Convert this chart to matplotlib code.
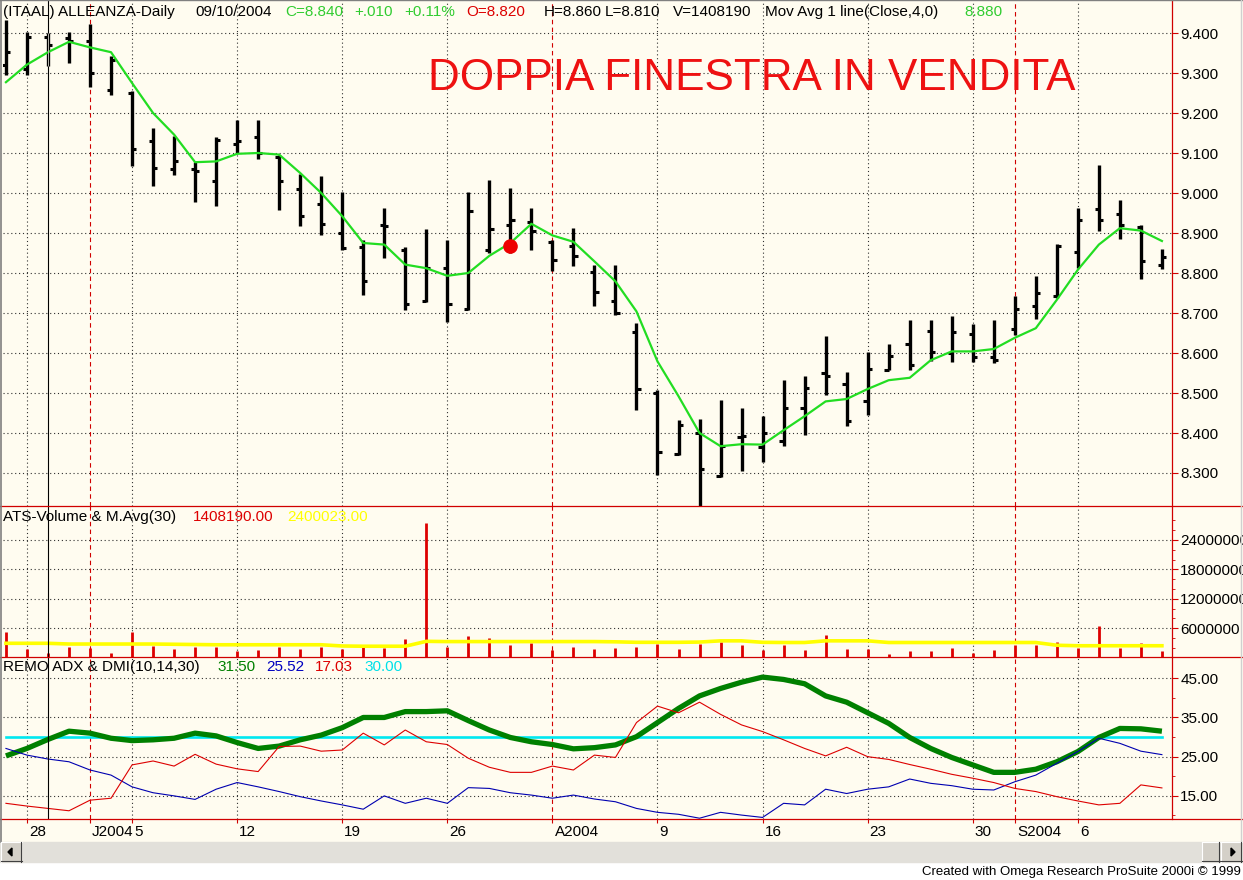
import matplotlib
matplotlib.use('Agg')
import numpy as np
import matplotlib.pyplot as plt
from matplotlib.patches import Rectangle, Polygon
from matplotlib.ticker import FormatStrFormatter

W, H = 1243, 880
CREAM = '#FFFCF0'
RED = '#D00000'
DOTS = (0, (1, 2.5))

# ---- daily bars, 25 Jun 2004 .. 10 Sep 2004 ----
opens = [9.32, 9.31, 9.39, 9.388, 9.38, 9.258, 9.25, 9.13, 9.06, 9.06,
         9.03, 9.123, 9.14, 9.09, 9.01, 8.972, 8.90, 8.865, 8.92, 8.858,
         8.731, 8.813, 8.71, 8.858, 8.92, 8.927, 8.877, 8.867, 8.803, 8.731,
         8.652, 8.50, 8.348, 8.40, 8.293, 8.39, 8.364, 8.38, 8.463, 8.55,
         8.522, 8.479, 8.558, 8.623, 8.654, 8.60, 8.648, 8.59, 8.661, 8.717,
         8.742, 8.852, 8.96, 8.948, 8.915, 8.82]
highs = [9.432, 9.402, 9.40, 9.402, 9.423, 9.342, 9.254, 9.162, 9.142, 9.077,
         9.14, 9.182, 9.182, 9.096, 9.048, 9.042, 9.002, 8.883, 8.962, 8.865,
         8.911, 8.883, 9.002, 9.032, 9.012, 8.962, 8.883, 8.912, 8.821, 8.821,
         8.675, 8.507, 8.432, 8.435, 8.482, 8.463, 8.442, 8.533, 8.542, 8.642,
         8.552, 8.603, 8.623, 8.682, 8.682, 8.692, 8.673, 8.682, 8.742, 8.792,
         8.873, 8.963, 9.071, 8.982, 8.92, 8.86]
lows = [9.296, 9.296, 9.317, 9.325, 9.265, 9.246, 9.067, 9.017, 9.046, 8.977,
        8.967, 9.10, 9.085, 8.957, 8.917, 8.896, 8.858, 8.746, 8.837, 8.708,
        8.727, 8.677, 8.708, 8.85, 8.85, 8.857, 8.804, 8.817, 8.717, 8.696,
        8.457, 8.296, 8.346, 8.21, 8.29, 8.304, 8.327, 8.367, 8.396, 8.496,
        8.417, 8.446, 8.557, 8.557, 8.579, 8.577, 8.577, 8.575, 8.646, 8.685,
        8.738, 8.813, 8.904, 8.885, 8.786, 8.81]
closes = [9.352, 9.39, 9.37, 9.38, 9.30, 9.332, 9.11, 9.063, 9.08, 9.055,
          9.132, 9.13, 9.10, 9.03, 8.942, 8.923, 8.862, 8.78, 8.918, 8.723,
          8.813, 8.723, 8.954, 8.911, 8.932, 8.905, 8.833, 8.842, 8.753, 8.70,
          8.511, 8.352, 8.421, 8.31, 8.368, 8.392, 8.40, 8.463, 8.512, 8.542,
          8.429, 8.561, 8.592, 8.571, 8.602, 8.652, 8.59, 8.582, 8.71, 8.75,
          8.867, 8.932, 8.932, 8.92, 8.829, 8.84]
mov_avg = [9.277, 9.321, 9.352, 9.378, 9.364, 9.352, 9.275, 9.20, 9.146, 9.077,
           9.079, 9.098, 9.10, 9.096, 9.05, 9.0, 8.942, 8.875, 8.871, 8.821,
           8.812, 8.793, 8.80, 8.843, 8.875, 8.923, 8.894, 8.878, 8.829, 8.779,
           8.704, 8.579, 8.492, 8.40, 8.367, 8.372, 8.371, 8.407, 8.442, 8.479,
           8.485, 8.51, 8.532, 8.538, 8.582, 8.604, 8.604, 8.61, 8.638, 8.662,
           8.733, 8.808, 8.871, 8.912, 8.906, 8.88]
signal_bar, signal_price = 24, 8.867

# volume, millions
volume = [5.3, 1.77, 0.88, 2.1, 1.9, 1.0, 5.2, 2.3, 1.77, 2.1,
          2.1, 1.36, 1.43, 2.1, 1.77, 2.1, 1.77, 2.1, 1.9, 3.8,
          27.4, 2.1, 4.4, 3.95, 2.6, 2.9, 1.56, 2.1, 1.77, 1.9,
          2.1, 2.8, 1.77, 2.8, 3.1, 2.6, 1.56, 2.6, 1.56, 4.5,
          1.77, 1.7, 0.8, 1.36, 1.36, 1.9, 1.0, 1.43, 2.6, 2.6,
          3.1, 1.9, 6.5, 1.9, 2.9, 1.408]
volume_ma = [2.9, 2.9, 2.9, 2.75, 2.75, 2.75, 2.75, 2.75, 2.7, 2.65,
             2.6, 2.6, 2.6, 2.6, 2.6, 2.6, 2.35, 2.3, 2.3, 2.3,
             3.3, 3.25, 3.25, 3.25, 3.25, 3.25, 3.25, 3.25, 3.25, 3.2,
             3.1, 3.1, 3.1, 3.15, 3.4, 3.4, 3.1, 3.06, 3.06, 3.4,
             3.4, 3.4, 3.06, 3.06, 3.06, 3.06, 3.06, 3.06, 3.06, 3.06,
             2.5, 2.4, 2.4, 2.4, 2.4, 2.4]

# ADX & DMI
adx = [25.2, 27.1, 29.4, 31.5, 31.0, 29.7, 29.1, 29.3, 29.7, 31.0,
       30.3, 28.6, 27.1, 27.7, 29.3, 30.5, 32.4, 35.0, 35.0, 36.5,
       36.5, 36.7, 34.2, 31.8, 29.9, 28.8, 28.1, 27.0, 27.3, 28.0,
       30.1, 33.7, 37.3, 40.5, 42.4, 44.0, 45.3, 44.7, 43.6, 40.5,
       38.9, 36.2, 33.5, 29.9, 27.1, 24.8, 22.9, 21.0, 21.0, 21.8,
       23.7, 26.3, 29.9, 32.2, 32.1, 31.5]
di_red = [13.1, 12.4, 11.8, 11.2, 13.9, 14.4, 22.9, 23.9, 22.6, 25.6,
          23.1, 21.9, 21.2, 27.6, 27.7, 26.4, 26.7, 31.0, 28.0, 31.8,
          28.8, 28.1, 24.6, 22.3, 21.0, 21.0, 22.6, 21.6, 25.4, 24.8,
          33.7, 37.9, 36.2, 38.9, 35.8, 33.1, 31.4, 29.3, 27.1, 25.2,
          27.4, 25.0, 24.3, 23.0, 21.8, 20.5, 19.5, 18.4, 16.9, 16.1,
          14.8, 13.7, 12.7, 13.1, 17.8, 17.03]
di_blue = [27.1, 25.4, 24.4, 23.7, 21.6, 20.3, 17.3, 15.8, 15.0, 14.1,
           16.7, 18.4, 17.3, 16.1, 14.8, 13.7, 12.7, 11.6, 15.0, 13.1,
           14.4, 13.1, 17.1, 16.9, 15.8, 15.2, 14.4, 15.2, 14.2, 13.5,
           11.8, 10.8, 10.3, 9.3, 10.8, 10.1, 9.5, 13.1, 12.7, 16.7,
           15.6, 16.7, 17.3, 19.3, 18.2, 17.6, 16.7, 16.5, 18.6, 20.3,
           23.3, 26.3, 29.7, 28.4, 26.4, 25.52]
adx_level = 30.0

week_bars = [1, 6, 11, 16, 21, 31, 36, 41, 46, 51]
month_bars = [4, 26, 48]
date_ticks = [1, 4, 6, 11, 16, 21, 26, 31, 36, 41, 46, 48, 51]
date_labels = ['28', 'J2004', '5', '12', '19', '26', 'A2004', '9', '16', '23', '30', 'S2004', '6']
cursor_bar = 2

price_ticks = [8.3, 8.4, 8.5, 8.6, 8.7, 8.8, 8.9, 9.0, 9.1, 9.2, 9.3, 9.4]
vol_ticks = [6e6, 12e6, 18e6, 24e6]
adx_ticks = [15, 25, 35, 45]

plt.rcParams['font.family'] = ['Liberation Sans', 'DejaVu Sans']

fig = plt.figure(figsize=(W / 100, H / 100), dpi=100)
fig.patch.set_facecolor('white')

back = fig.add_axes([0, 0, 1, 1], zorder=0)
back.set_xlim(0, W)
back.set_ylim(H, 0)
back.axis('off')
back.add_patch(Rectangle((0, 0), W, 842, color=CREAM))

x = np.arange(len(closes))
XL = (-0.14, 55.48)


def panel(top, bottom, ylim):
    ax = fig.add_axes([3 / W, 1 - bottom / H, (1172 - 3) / W, (bottom - top) / H], zorder=1)
    ax.patch.set_visible(False)
    for s in ax.spines.values():
        s.set_visible(False)
    ax.set_xlim(*XL)
    ax.set_ylim(*ylim)
    ax.yaxis.tick_right()
    ax.tick_params(axis='y', which='both', direction='out', color=RED, labelcolor='black',
                   labelsize=11, pad=2)
    ax.tick_params(axis='y', which='major', length=4)
    ax.tick_params(axis='y', which='minor', length=2.5)
    ax.tick_params(axis='x', bottom=False, labelbottom=False)
    for w in week_bars:
        ax.axvline(w, color='#303030', lw=0.8, ls=DOTS, zorder=0.5)
    for m in month_bars:
        ax.axvline(m, color=RED, lw=0.8, ls=(0, (4, 3)), zorder=0.6)
    return ax


# ---- price ----
ax_p = panel(0, 506, (8.2175, 9.4825))
ax_p.set_yticks(price_ticks)
ax_p.yaxis.set_major_formatter(FormatStrFormatter('%.3f'))
for t in price_ticks:
    ax_p.axhline(t, color='#303030', lw=0.8, ls=DOTS, zorder=0.5)
ax_p.vlines(x, lows, highs, color='black', lw=2.4, zorder=3)
ax_p.hlines(opens, x - 0.2, x, color='black', lw=2.2, zorder=3)
ax_p.hlines(closes, x, x + 0.2, color='black', lw=2.2, zorder=3)
ax_p.plot(x, mov_avg, color='#22DD22', lw=1.6, zorder=4)
ax_p.plot(signal_bar, signal_price, 'o', color='#EE0000', ms=9.5, zorder=6)

# ---- volume ----
ax_v = panel(506, 657.5, (0, 30.92e6))
ax_v.set_yticks(vol_ticks)
ax_v.set_yticks(np.arange(2e6, 30e6, 2e6), minor=True)
ax_v.yaxis.set_major_formatter(FormatStrFormatter('%d'))
for t in vol_ticks:
    ax_v.axhline(t, color='#303030', lw=0.8, ls=DOTS, zorder=0.5)
ax_v.vlines(x, 0, np.array(volume) * 1e6, color='#DD0000', lw=2.0, zorder=3)
ax_v.plot(x, np.array(volume_ma) * 1e6, color='#FFFF00', lw=2.6, zorder=4)

# ---- ADX ----
ax_a = panel(657.5, 819, (9.1, 50.3))
ax_a.set_yticks(adx_ticks)
ax_a.set_yticks([10, 20, 30, 40], minor=True)
ax_a.yaxis.set_major_formatter(FormatStrFormatter('%.2f'))
for t in adx_ticks:
    ax_a.axhline(t, color='#303030', lw=0.8, ls=DOTS, zorder=0.5)
ax_a.plot([x[0], x[-1]], [adx_level, adx_level], color='#00E8F0', lw=1.9, zorder=2)
ax_a.plot(x, adx, color='#008000', lw=3.8, zorder=3, solid_capstyle='butt')
ax_a.plot(x, di_blue, color='#0000B0', lw=0.8, zorder=4)
ax_a.plot(x, di_red, color='#DD0000', lw=0.8, zorder=4)
ax_a.set_xticks(date_ticks)
ax_a.tick_params(axis='x', bottom=True, direction='out', length=3, color=RED)
for t, lbl in zip(date_ticks, date_labels):
    ax_a.annotate(lbl, xy=(t, 0), xycoords=('data', 'axes fraction'), xytext=(1.5, -9.5),
                  textcoords='offset points', ha='left', va='center', fontsize=11,
                  annotation_clip=False)

# cursor line through all panels
for ax in (ax_p, ax_v, ax_a):
    ax.axvline(cursor_bar, color='black', lw=0.8, zorder=7)
ax_p.vlines([cursor_bar], lows[cursor_bar], highs[cursor_bar], color=CREAM, lw=0.5, zorder=8)

# ---- frame, separators, scrollbar ----
top = fig.add_axes([0, 0, 1, 1], zorder=3)
top.set_xlim(0, W)
top.set_ylim(H, 0)
top.axis('off')
for yy in (506, 657.5, 819):
    top.plot([0, W], [yy, yy], color=RED, lw=0.9)
top.plot([1172, 1172], [0, 819], color=RED, lw=0.9)
top.plot([1.5, 1.5], [0, 842], color='#808080', lw=1.2)
top.plot([0, W], [0.5, 0.5], color='#808080', lw=1.0)
top.plot([W - 1.5, W - 1.5], [0, 842], color='#D0D0D0', lw=1.0)

top.add_patch(Rectangle((0, 842), W, 20, color='#E2E0DA'))


def button(x0, w):
    top.add_patch(Rectangle((x0, 842), w, 20, fc='#D4D0C8', ec='none'))
    top.plot([x0, x0 + w], [842.5, 842.5], color='white', lw=0.8)
    top.plot([x0 + 0.5, x0 + 0.5], [842, 862], color='white', lw=0.8)
    top.plot([x0, x0 + w], [861.5, 861.5], color='#404040', lw=0.8)
    top.plot([x0 + w - 0.5, x0 + w - 0.5], [842, 862], color='#404040', lw=0.8)


button(1, 21)
top.add_patch(Polygon([(8, 852), (12, 848), (12, 856)], color='black'))
button(1202, 18)
button(1221, 21)
top.add_patch(Polygon([(1235, 852), (1231, 848), (1231, 856)], color='black'))


def ftext(px, py, s, color='black', size=11, **kw):
    fig.text(px / W, 1 - py / H, s, color=color, fontsize=size, va='center', ha='left', **kw)


GREEN_T = '#30CC30'
header = [(3, '(ITAAL) ALLEANZA-Daily', 'black'), (195, '09/10/2004', 'black'),
          (285, 'C=8.840', GREEN_T), (354, '+.010', GREEN_T), (404, '+0.11%', GREEN_T),
          (466, 'O=8.820', '#DD0000'), (544, 'H=8.860', 'black'), (605, 'L=8.810', 'black'),
          (673, 'V=1408190', 'black'), (765, 'Mov Avg 1 line(Close,4,0)', 'black'),
          (964, '8.880', GREEN_T)]
for px, s, c in header:
    ftext(px, 12, s, c)

for px, s, c in [(3, 'ATS-Volume & M.Avg(30)', 'black'), (193, '1408190.00', '#DD0000'),
                 (287, '2400023.00', '#FFFF00')]:
    ftext(px, 517, s, c)

for px, s, c in [(3, 'REMO ADX & DMI(10,14,30)', 'black'), (217, '31.50', '#008000'),
                 (266, '25.52', '#0000C0'), (315, '17.03', '#DD0000'), (364, '30.00', '#00E0E8')]:
    ftext(px, 667, s, c)

ftext(428, 78, 'DOPPIA FINESTRA IN VENDITA', '#EE1111', 31.7)
fig.text(1241 / W, 1 - 872 / H, 'Created with Omega Research ProSuite 2000i \u00a9 1999',
         fontsize=9.5, ha='right', va='center')

fig.savefig('out.png', dpi=100, facecolor=fig.get_facecolor())
